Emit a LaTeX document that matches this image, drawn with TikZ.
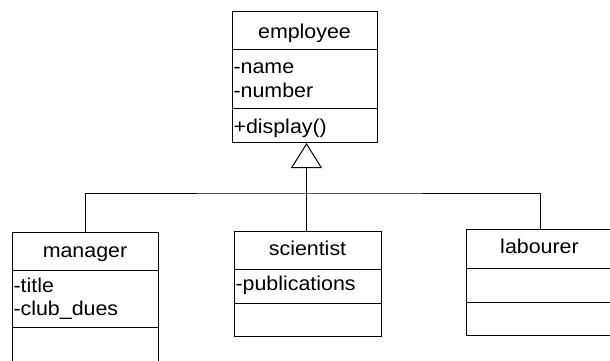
\documentclass[tikz,border=0pt]{standalone}
\usepackage{fontspec}
\setmainfont[FakeStretch=1.07]{Liberation Sans}
\usetikzlibrary{arrows.meta}
\begin{document}
\begin{tikzpicture}[x=1pt,y=-1pt,
  line width=1pt,
  box/.style={draw, rectangle, inner sep=0pt, anchor=north west},
  cls/.style={anchor=base, inner sep=0pt, font=\fontsize{20}{23}\selectfont},
  attr/.style={anchor=base west, inner sep=0pt, font=\fontsize{20}{23}\selectfont},
  gen/.style={-{Triangle[open,length=25pt,width=31pt,line width=1pt]}}]
\useasboundingbox (0,0) rectangle (610,361);
\clip (0,0) rectangle (610,361);
% employee
\node[box, minimum width=145pt, minimum height=131pt] (emp) at (232,11) {};
\draw (232,50) -- (377,50);
\draw (232,108) -- (377,108);
\node[cls] (empt) at (304.5,38) {employee};
\node[attr] (empa) at (233,74) {-name};
\node[attr] (empb) at (233,97) {-number};
\node[attr] (empc) at (233,133) {+display()};
% manager
\node[box, minimum width=146pt, minimum height=130pt] (man) at (12,232) {};
\draw (12,270) -- (158,270);
\draw (12,327) -- (158,327);
\node[cls] (mant) at (85,257) {manager};
\node[attr] (mana) at (13,292) {-title};
\node[attr] (manb) at (13,315) {-club\_dues};
% scientist
\node[box, minimum width=147pt, minimum height=105pt] (sci) at (234,231) {};
\draw (234,269) -- (381,269);
\draw (234,303) -- (381,303);
\node[cls] (scit) at (307.5,255) {scientist};
\node[attr] (scia) at (235,290) {-publications};
% labourer
\node[box, minimum width=147pt, minimum height=106pt] (lab) at (466,229) {};
\draw (466,268) -- (613,268);
\draw (466,302) -- (613,302);
\node[cls] (labt) at (539.5,253) {labourer};
% connectors
\coordinate (j) at (306.5,193);
\draw[gen] (j) -- (j |- emp.south);
\draw (man.north) |- (j) -| (lab.north);
\draw (j |- sci.north) -- (j);
\end{tikzpicture}
\end{document}
